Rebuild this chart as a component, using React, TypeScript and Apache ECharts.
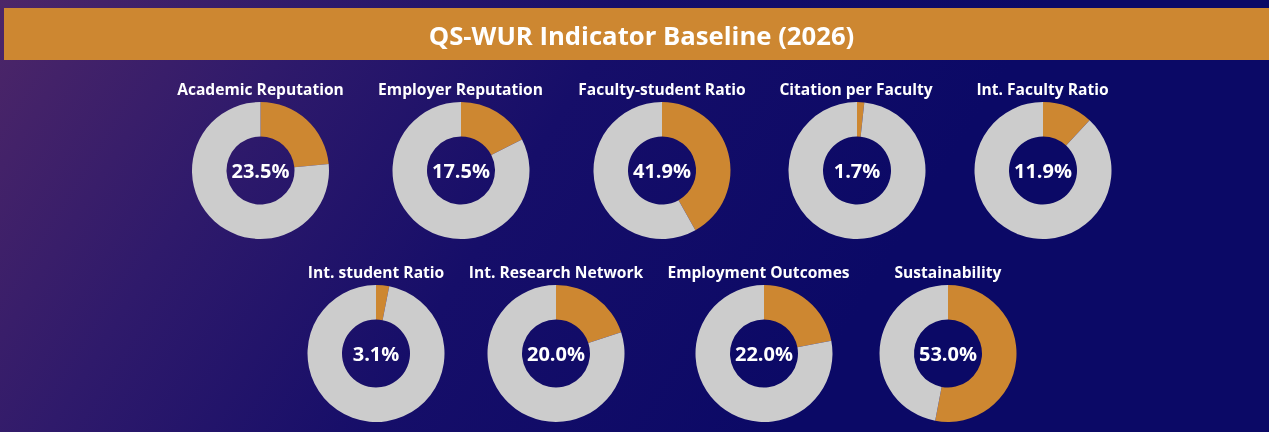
import React, { useEffect, useRef } from "react";
import * as echarts from "echarts";

const TITLE = "QS-WUR Indicator Baseline (2026)";

const indicators = [
  "Academic Reputation",
  "Employer Reputation",
  "Faculty-student Ratio",
  "Citation per Faculty",
  "Int. Faculty Ratio",
  "Int. student Ratio",
  "Int. Research Network",
  "Employment Outcomes",
  "Sustainability",
];

const shares = [23.5, 17.5, 41.9, 1.7, 11.9, 3.1, 20.0, 22.0, 53.0];

// layout (pixels)
const centersX = [260.5, 461, 662, 857, 1043, 376, 556, 764, 948];
const rowOf = [0, 0, 0, 0, 0, 1, 1, 1, 1];
const rowCenterY = [170.5, 353.5];
const rowLabelY = [88.5, 271.5];
const labelX = [260.5, 460.5, 662, 856, 1042.5, 376, 556, 758.5, 948];

const W = 1269;
const H = 432;
const ORANGE = "#CD8731";
const GREY = "#CCCCCC";
const FONT = "'Open Sans', 'Noto Sans', sans-serif";

export default function App() {
  const ref = useRef<HTMLDivElement>(null);

  useEffect(() => {
    if (!ref.current) return;
    const chart = echarts.init(ref.current, undefined, { renderer: "svg" });

    const titles: any[] = [
      {
        text: TITLE,
        left: 641.5,
        top: 35,
        padding: 0,
        textAlign: "center",
        textVerticalAlign: "middle",
        textStyle: {
          color: "#FFFFFF",
          fontFamily: FONT,
          fontWeight: 700,
          fontSize: 25.7,
        },
      },
    ];
    indicators.forEach((name, i) => {
      titles.push({
        text: name,
        left: labelX[i],
        top: rowLabelY[rowOf[i]],
        padding: 0,
        textAlign: "center",
        textVerticalAlign: "middle",
        textStyle: {
          color: "#FFFFFF",
          fontFamily: FONT,
          fontWeight: 700,
          fontSize: 15.6,
        },
      });
    });

    const series: any[] = indicators.map((name, i) => ({
      type: "pie",
      name,
      center: [centersX[i], rowCenterY[rowOf[i]]],
      radius: [34, 68.5],
      startAngle: 90,
      clockwise: true,
      silent: true,
      avoidLabelOverlap: false,
      labelLine: { show: false },
      emphasis: { disabled: true },
      data: [
        {
          name,
          value: shares[i],
          itemStyle: { color: ORANGE },
          label: {
            show: true,
            position: "center",
            formatter: () => shares[i].toFixed(1) + "%",
            color: "#FFFFFF",
            fontFamily: FONT,
            fontWeight: 700,
            fontSize: 20,
          },
        },
        {
          name: "rest",
          value: +(100 - shares[i]).toFixed(1),
          itemStyle: { color: GREY },
          label: { show: false },
        },
      ],
    }));

    chart.setOption({
      animation: false,
      backgroundColor: "transparent",
      graphic: [
        {
          type: "rect",
          z: -20,
          shape: { x: 0, y: 0, width: W, height: H },
          style: {
            fill: new echarts.graphic.LinearGradient(
              0,
              0,
              760,
              470,
              [
                { offset: 0, color: "#4D2668" },
                { offset: 0.3, color: "#2F1A6B" },
                { offset: 0.6, color: "#160E69" },
                { offset: 1, color: "#0B0966" },
              ],
              true
            ),
          },
        },
        {
          type: "rect",
          z: -10,
          shape: { x: 4, y: 8, width: W - 4, height: 52 },
          style: { fill: ORANGE },
        },
      ],
      title: titles,
      series,
    });

    return () => chart.dispose();
  }, []);

  return (
    <div
      ref={ref}
      style={{ position: "fixed", left: 0, top: 0, width: W, height: H }}
    />
  );
}
